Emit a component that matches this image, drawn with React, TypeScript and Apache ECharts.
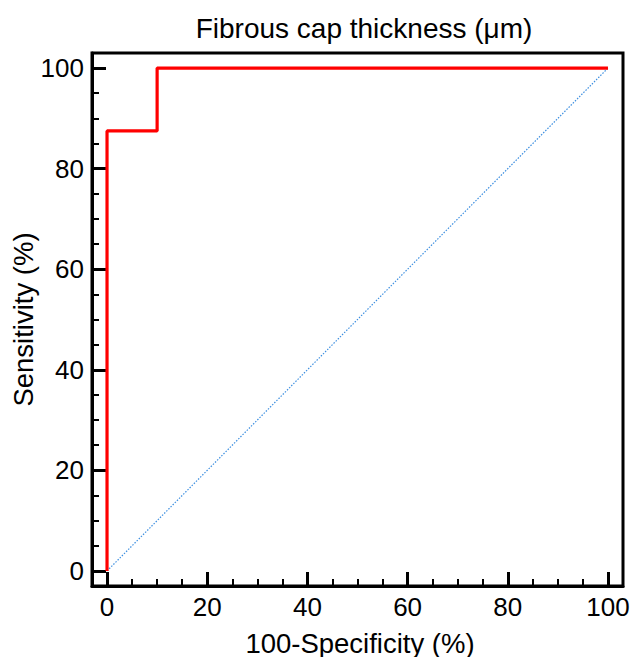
import React, { useEffect, useRef } from "react";
import * as echarts from "echarts";

const rocX = [0, 0, 10, 10, 100];
const rocY = [0, 87.5, 87.5, 100, 100];
const refX = [0, 100];
const refY = [0, 100];
const majorTicks = [0, 20, 40, 60, 80, 100];
const minorTicks = [5, 10, 15, 25, 30, 35, 45, 50, 55, 65, 70, 75, 85, 90, 95];

const FONT = "Liberation Sans, Arial, sans-serif";

export default function App() {
  const ref = useRef<HTMLDivElement>(null);
  useEffect(() => {
    const chart = echarts.init(ref.current!, null, { renderer: "svg" });
    const axisMin = -3;
    const axisMax = 103;
    const mainAxis = (isX: boolean) => ({
      type: "value",
      min: axisMin,
      max: axisMax,
      position: isX ? "bottom" : "left",
      name: isX ? "100-Specificity (%)" : "Sensitivity (%)",
      nameLocation: "middle",
      nameGap: isX ? 43 : 55,
      nameMoveOverlap: false,
      nameTextStyle: {
        fontFamily: FONT,
        fontSize: 27.5,
        color: "#000",
        padding: isX ? [0, 0, 0, 5] : 0,
      },
      axisLine: { show: true, onZero: false, lineStyle: { color: "#000", width: 3 } },
      axisTick: {
        show: true,
        inside: true,
        length: 14,
        customValues: majorTicks,
        lineStyle: { color: "#000", width: 3 },
      },
      axisLabel: {
        show: true,
        customValues: majorTicks,
        fontFamily: FONT,
        fontSize: 26,
        color: "#000",
        margin: 8,
      },
      splitLine: { show: false },
    });
    const minorAxis = (isX: boolean) => ({
      type: "value",
      min: axisMin,
      max: axisMax,
      position: isX ? "bottom" : "left",
      offset: 0,
      axisLine: { show: false, onZero: false },
      axisTick: {
        show: true,
        inside: true,
        length: 7,
        customValues: minorTicks,
        lineStyle: { color: "#000", width: 2 },
      },
      axisLabel: { show: false },
      splitLine: { show: false },
    });
    chart.setOption({
      animation: false,
      backgroundColor: "#fff",
      title: {
        text: "Fibrous cap thickness (μm)",
        left: 359,
        textAlign: "center",
        top: 9,
        textStyle: { fontFamily: FONT, fontSize: 28, fontWeight: "normal", color: "#000" },
      },
      grid: {
        left: 92,
        right: 8,
        top: 53,
        bottom: 71,
        outerBoundsMode: "none",
        containLabel: false,
        show: true,
        borderColor: "#000",
        borderWidth: 3,
        backgroundColor: "transparent",
      },
      xAxis: [mainAxis(true), minorAxis(true)],
      yAxis: [mainAxis(false), minorAxis(false)],
      series: [
        {
          type: "line",
          data: refX.map((x, i) => [x, refY[i]]),
          showSymbol: false,
          symbol: "none",
          lineStyle: { color: "#3d8fe0", width: 1.2, type: [1.5, 1.5] },
          z: 2,
        },
        {
          type: "line",
          data: rocX.map((x, i) => [x, rocY[i]]),
          showSymbol: false,
          symbol: "none",
          lineStyle: { color: "#ff0000", width: 3.2 },
          z: 3,
        },
      ],
    });
    return () => chart.dispose();
  }, []);
  return <div ref={ref} style={{ width: 631, height: 657, position: "absolute", left: 0, top: 0 }} />;
}
